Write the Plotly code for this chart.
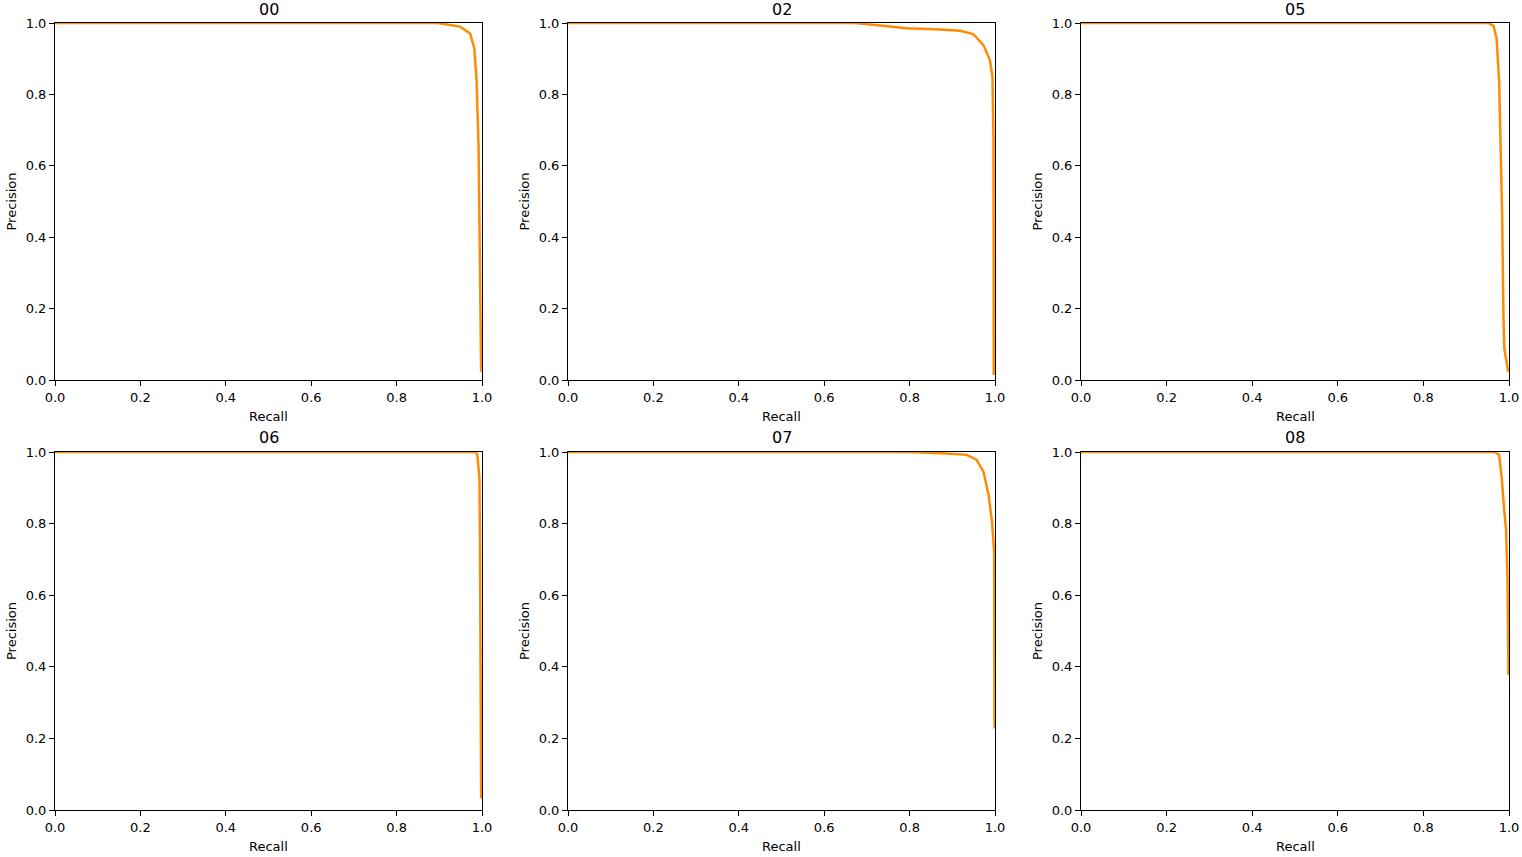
import plotly.graph_objects as go

titles = ["00", "02", "05", "06", "07", "08"]

recall_00 = [0.0, 0.897, 0.948, 0.972, 0.982, 0.9875, 0.992, 0.9953, 0.998]
precision_00 = [1.0, 1.0, 0.990, 0.971, 0.929, 0.836, 0.650, 0.37, 0.023]

recall_02 = [0.0, 0.672, 0.754, 0.793, 0.871, 0.918, 0.949, 0.973, 0.988, 0.994, 0.9966, 0.997]
precision_02 = [1.0, 1.0, 0.990, 0.985, 0.982, 0.978, 0.969, 0.938, 0.896, 0.85, 0.664, 0.014]

recall_05 = [0.0, 0.952, 0.964, 0.971, 0.977, 0.981, 0.984, 0.987, 0.989, 0.998]
precision_05 = [1.0, 1.0, 0.992, 0.957, 0.836, 0.649, 0.462, 0.182, 0.089, 0.023]

recall_06 = [0.0, 0.984, 0.989, 0.994, 0.9953, 0.997, 0.998]
precision_06 = [1.0, 1.0, 0.992, 0.927, 0.74, 0.367, 0.033]

recall_07 = [0.0, 0.801, 0.887, 0.934, 0.957, 0.973, 0.985, 0.993, 0.998, 0.999]
precision_07 = [1.0, 1.0, 0.996, 0.992, 0.978, 0.945, 0.88, 0.805, 0.72, 0.228]

recall_08 = [0.0, 0.967, 0.977, 0.983, 0.989, 0.993, 0.9965, 0.9988]
precision_08 = [1.0, 1.0, 0.992, 0.927, 0.834, 0.787, 0.647, 0.377]

tick_vals = [0.0, 0.2, 0.4, 0.6, 0.8, 1.0]
tick_text = ["0.0", "0.2", "0.4", "0.6", "0.8", "1.0"]

series = [
    (recall_00, precision_00),
    (recall_02, precision_02),
    (recall_05, precision_05),
    (recall_06, precision_06),
    (recall_07, precision_07),
    (recall_08, precision_08),
]

W, H = 1522, 857
x_px = [(55, 482), (568, 995), (1081, 1509)]
y_px = [(23, 380), (452, 810)]


def px_x(v):
    return v / W


def px_y(v):
    return 1 - v / H


FONT = "DejaVu Sans"
fig = go.Figure()
annotations = []
layout_axes = {}

for i, (rec, prec) in enumerate(series):
    r, c = divmod(i, 3)
    n = i + 1
    xa = "x" if n == 1 else f"x{n}"
    ya = "y" if n == 1 else f"y{n}"
    fig.add_trace(go.Scatter(
        x=rec, y=prec, mode="lines", xaxis=xa, yaxis=ya,
        line=dict(color="#ff8c00", width=2.5), showlegend=False,
        hoverinfo="skip",
    ))
    x0, x1 = x_px[c]
    yt, yb = y_px[r]
    xdom = [px_x(x0), px_x(x1)]
    ydom = [px_y(yb), px_y(yt)]
    axcommon = dict(
        range=[0, 1], tickvals=tick_vals, ticktext=tick_text,
        ticks="outside", ticklen=5, tickwidth=1, tickcolor="black",
        showline=True, linecolor="black", linewidth=1, mirror=True,
        showgrid=False, zeroline=False, fixedrange=True, automargin=False,
        tickfont=dict(family=FONT, size=13, color="black"),
    )
    layout_axes["xaxis" if n == 1 else f"xaxis{n}"] = dict(
        domain=xdom, anchor=ya, **axcommon)
    layout_axes["yaxis" if n == 1 else f"yaxis{n}"] = dict(
        domain=ydom, anchor=xa, **axcommon)
    xc = px_x((x0 + x1) / 2)
    annotations.append(dict(
        text=titles[i], x=xc, y=px_y(yt - 14), xref="paper", yref="paper",
        xanchor="center", yanchor="middle", showarrow=False, borderpad=0,
        font=dict(family=FONT, size=16, color="black")))
    annotations.append(dict(
        text="Recall", x=xc, y=px_y(yb + 36), xref="paper", yref="paper",
        xanchor="center", yanchor="middle", showarrow=False,
        font=dict(family=FONT, size=13, color="black")))
    annotations.append(dict(
        text="Precision", x=px_x(x0 - 44), y=px_y((yt + yb) / 2),
        xref="paper", yref="paper", xanchor="center", yanchor="middle",
        textangle=-90, showarrow=False,
        font=dict(family=FONT, size=13, color="black")))

fig.update_layout(
    width=W, height=H, margin=dict(l=0, r=0, t=0, b=0, autoexpand=False),
    paper_bgcolor="white", plot_bgcolor="white",
    annotations=annotations, **layout_axes,
)

fig.write_html(
    "out.html",
    config={"displayModeBar": False},
    post_script="document.body.style.margin='0px';document.body.style.overflow='hidden';",
)
